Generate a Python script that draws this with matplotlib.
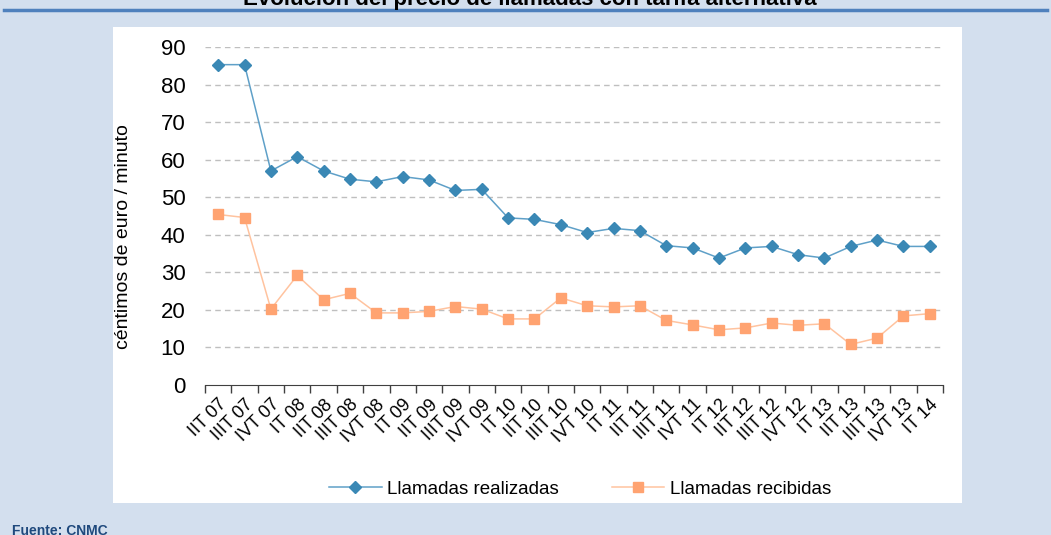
import matplotlib
matplotlib.use('Agg')
import matplotlib.pyplot as plt
from matplotlib.patches import Rectangle
from matplotlib.lines import Line2D

plt.rcParams['font.family'] = ['Liberation Sans', 'DejaVu Sans']

quarters = ['IIT 07', 'IIIT 07', 'IVT 07', 'IT 08', 'IIT 08', 'IIIT 08', 'IVT 08',
            'IT 09', 'IIT 09', 'IIIT 09', 'IVT 09', 'IT 10', 'IIT 10', 'IIIT 10',
            'IVT 10', 'IT 11', 'IIT 11', 'IIIT 11', 'IVT 11', 'IT 12', 'IIT 12',
            'IIIT 12', 'IVT 12', 'IT 13', 'IIT 13', 'IIIT 13', 'IVT 13', 'IT 14']
realizadas = [85.3, 85.3, 57.0, 60.8, 57.0, 54.8, 54.1, 55.5, 54.6, 51.8, 52.1,
              44.5, 44.1, 42.7, 40.6, 41.7, 41.1, 37.1, 36.5, 33.8, 36.5, 36.9,
              34.7, 33.8, 36.9, 38.6, 36.9, 36.9]
recibidas = [45.4, 44.6, 20.2, 29.2, 22.7, 24.4, 19.2, 19.2, 19.6, 20.9, 20.2,
             17.6, 17.6, 23.2, 21.1, 20.8, 21.1, 17.2, 16.0, 14.7, 15.2, 16.5,
             15.9, 16.3, 10.8, 12.5, 18.4, 19.0]

fig = plt.figure(figsize=(10.51, 5.35), dpi=100)
fig.patch.set_facecolor('#D3DFEE')

# white chart panel and blue header rule
fig.patches.append(Rectangle((113 / 1051, 1 - 503 / 535), 849 / 1051, 476 / 535,
                             transform=fig.transFigure, facecolor='white',
                             edgecolor='none', zorder=-10))
fig.lines.append(Line2D([4 / 1051, 1047 / 1051], [1 - 10 / 535, 1 - 10 / 535],
                        transform=fig.transFigure, color='#4F81BD', linewidth=2.5))
fig.text(530 / 1051, 1 - 5 / 535, 'Evolución del precio de llamadas con tarifa alternativa',
         ha='center', va='baseline', fontsize=16, fontweight='bold', color='#000000')
fig.text(12 / 1051, 1 - 524 / 535, 'Fuente: CNMC', ha='left', va='top',
         fontsize=10, fontweight='bold', color='#1F497D')

ax = fig.add_axes([205 / 1051, 1 - 385 / 535, 738 / 1051, 338 / 535])
ax.set_facecolor('none')

x = list(range(len(quarters)))
ax.plot(x, realizadas, color='#5FA0C8', linewidth=1.1, marker='D', markersize=6.5,
        markerfacecolor='#3A88B5', markeredgecolor='#3A88B5', label='Llamadas realizadas')
ax.plot(x, recibidas, color='#FFC39F', linewidth=1.1, marker='s', markersize=7,
        markerfacecolor='#FFA371', markeredgecolor='#FFA371', label='Llamadas recibidas')

ax.set_xlim(-0.5, len(quarters) - 0.5)
ax.set_ylim(0, 90)
ax.set_yticks(range(0, 91, 10))
for v in range(10, 91, 10):
    ax.axhline(v, color='#BFBFBF', linestyle=(0, (4, 3)), linewidth=1, zorder=0)

ax.set_xticks(x)
ax.set_xticklabels(quarters, rotation=45, ha='right', rotation_mode='anchor', fontsize=13)
ax.set_xticks([i - 0.5 for i in range(len(quarters) + 1)], minor=True)
ax.tick_params(axis='x', which='major', length=0, pad=8)
ax.tick_params(axis='x', which='minor', length=6, width=1, direction='out', color='#404040')
ax.tick_params(axis='y', length=0, pad=14, labelsize=16)

for s in ['top', 'right', 'left']:
    ax.spines[s].set_visible(False)
ax.spines['bottom'].set_color('#404040')

ax.set_ylabel('céntimos de euro / minuto', fontsize=14)
ax.yaxis.set_label_coords(-0.099, 0.44)

fig.legend(loc='center', bbox_to_anchor=(580 / 1051, 1 - 489 / 535), ncol=2,
           frameon=False, handlelength=2.8, handletextpad=0.3, columnspacing=2.8,
           prop={'family': ['Liberation Sans Narrow', 'Liberation Sans'], 'size': 13.5})

fig.savefig('out.png', dpi=100, facecolor=fig.get_facecolor())
